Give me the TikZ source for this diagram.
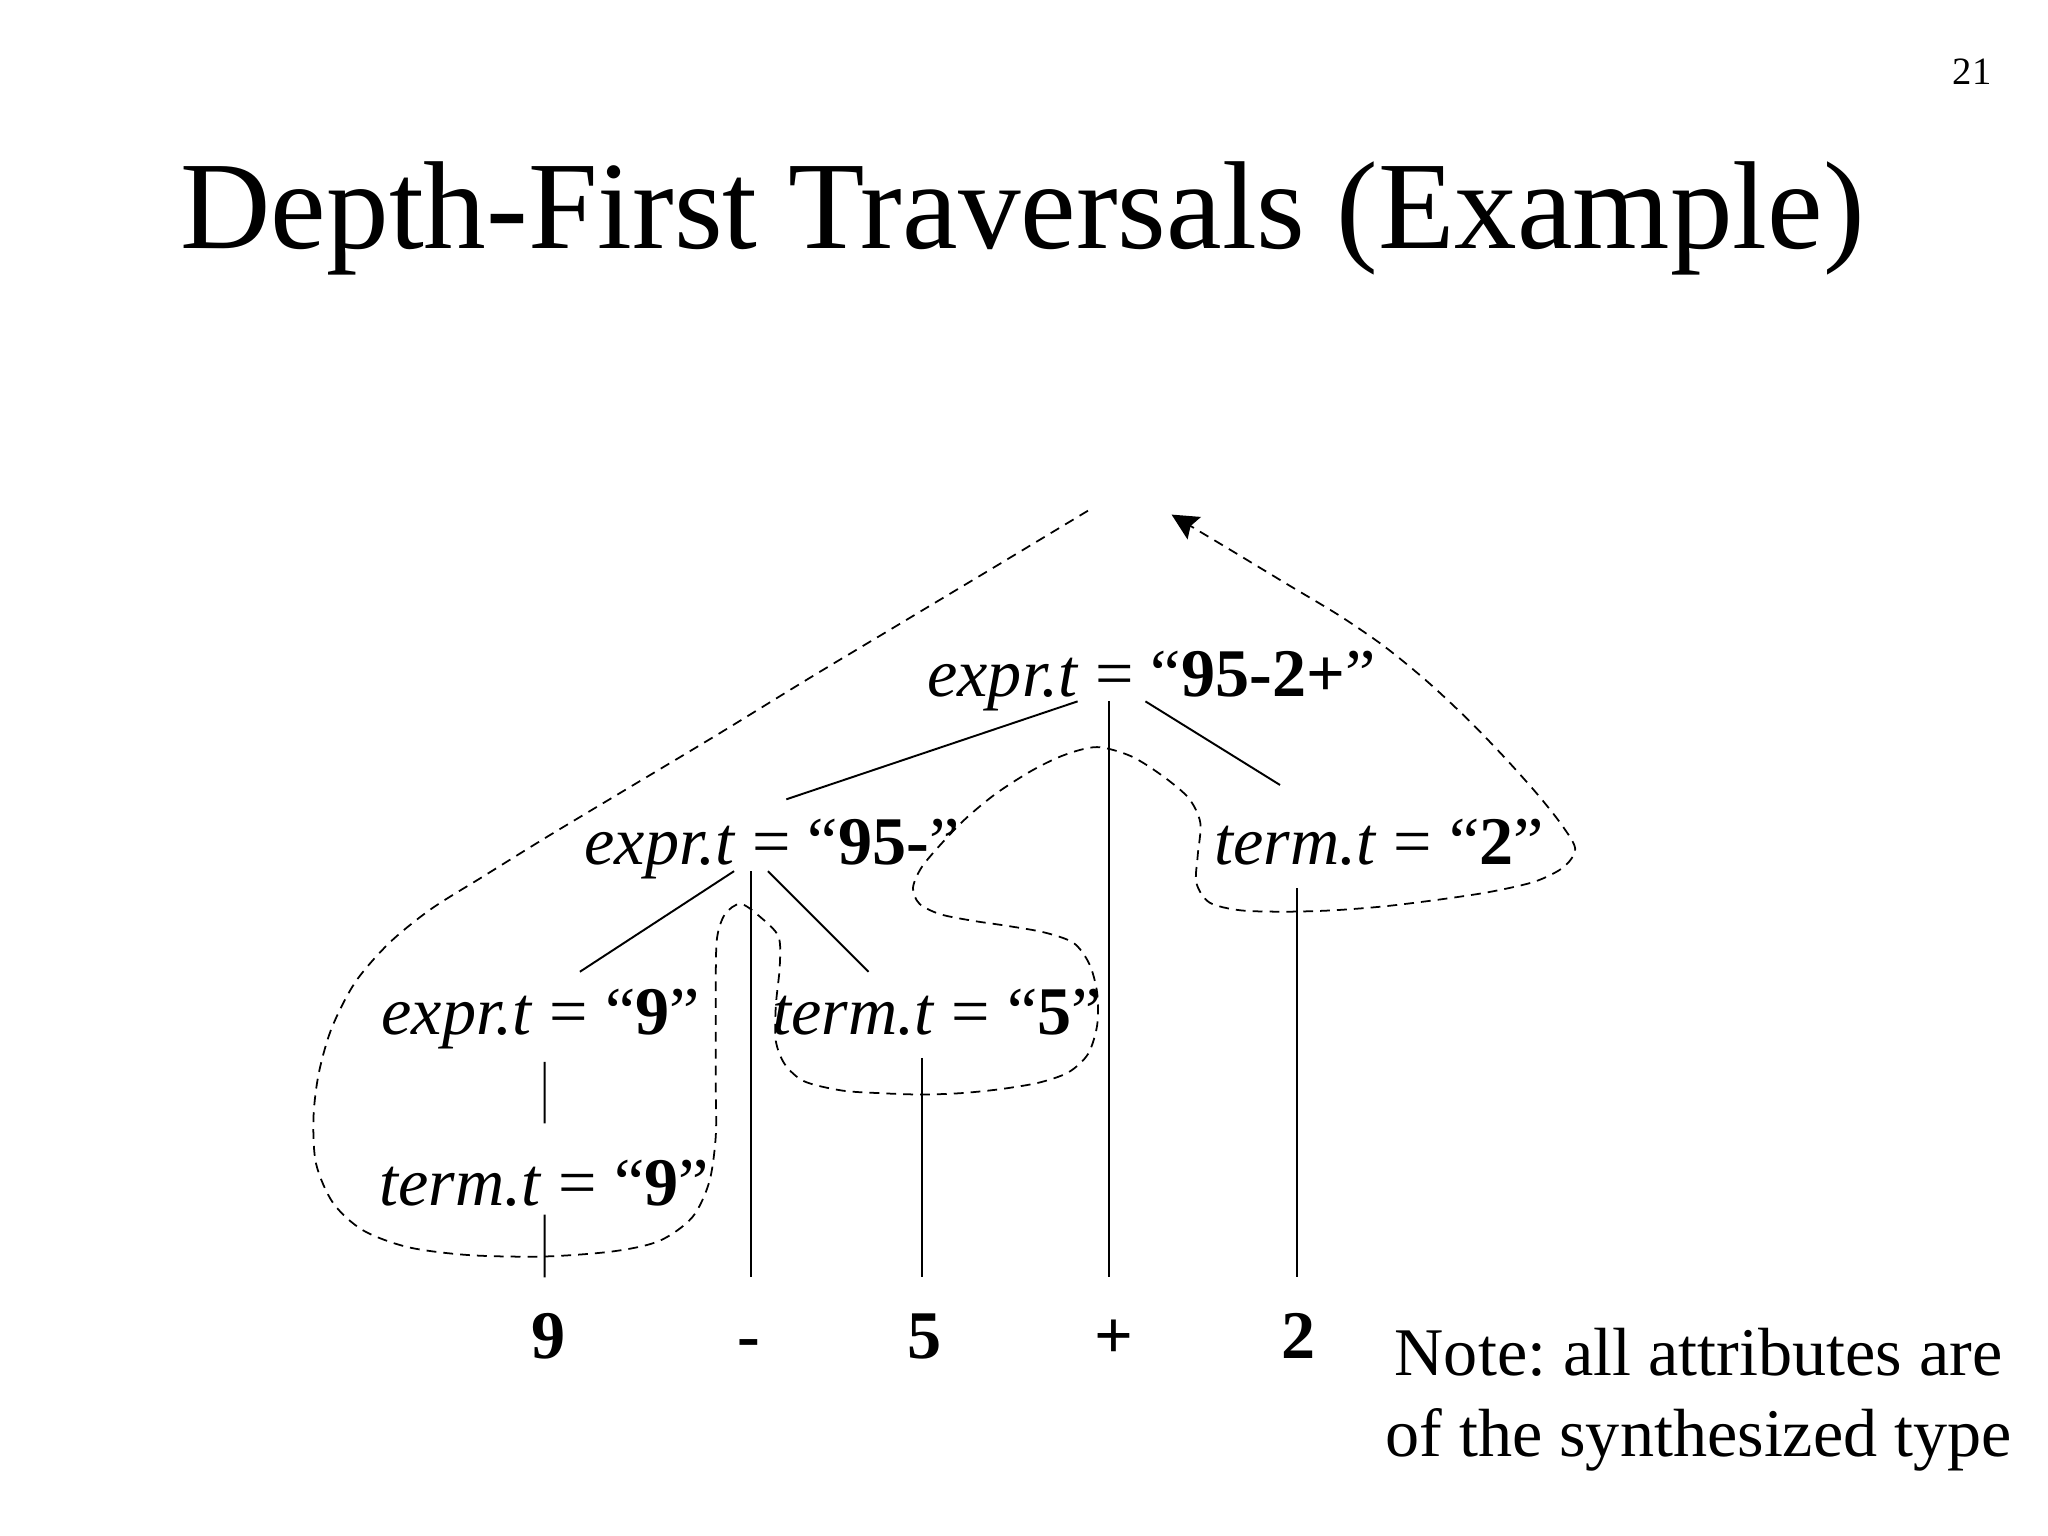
\documentclass[tikz,border=0pt]{standalone}
\usepackage{fontspec}
\setmainfont{Liberation Serif}
\usetikzlibrary{calc,arrows.meta}
\frenchspacing

\begin{document}
\begin{tikzpicture}[
        x=0.013061cm, y=-0.013061cm,
        attr/.style={font=\fontsize{19.4}{23}\selectfont, inner sep=0pt, anchor=base},
        leaf/.style={attr, font=\fontsize{19.4}{23}\selectfont\bfseries},
        edge/.style={line width=0.55pt},
        walk/.style={line width=0.5pt, dash pattern=on 2.8pt off 2pt}
    ]
    \useasboundingbox (0,0) rectangle (1568,1176);

    \node[font=\fontsize{11}{13}\selectfont, inner sep=0pt, anchor=base] (page) at (1510,65) {21};
    \node[font=\fontsize{35.6}{40}\selectfont, inner sep=0pt, anchor=base] (title) at (783,190) {Depth-First Traversals (Example)};

    \node[attr] (root) at (881.5,533) {\textit{expr.t} = “\textbf{95-2+}”};
    \node[attr] (e95) at (591,662) {\textit{expr.t} = “\textbf{95-}”};
    \node[attr] (t2) at (1056,662) {\textit{term.t} = “\textbf{2}”};
    \node[attr] (e9) at (414,792) {\textit{expr.t} = “\textbf{9}”};
    \node[attr] (t5) at (717.5,792) {\textit{term.t} = “\textbf{5}”};
    \node[attr] (t9) at (416.5,923) {\textit{term.t} = “\textbf{9}”};

    \node[leaf] (l9) at (420,1040) {9};
    \node[leaf] (lminus) at (573,1040) {-};
    \node[leaf] (l5) at (708,1040) {5};
    \node[leaf] (lplus) at (853,1040) {+};
    \node[leaf] (l2) at (994,1040) {2};

    \node[attr, align=center] (note) at (1300.5,1115) {Note: all attributes are\\of the synthesized type};

    \draw[edge] ($(root.base)+(-56.5,4)$) -- ($(e95.base)+(11,-50)$);
    \draw[edge] ($(root.base)+(-32.5,4)$) -- ($(lplus.base)+(-4,-62)$);
    \draw[edge] ($(root.base)+(-4.5,4)$) -- ($(t2.base)+(-76,-61)$);
    \draw[edge] ($(e95.base)+(-29,5)$) -- ($(e9.base)+(30,-48)$);
    \draw[edge] ($(e95.base)+(-16,5)$) -- ($(lminus.base)+(2,-62)$);
    \draw[edge] ($(e95.base)+(-3,5)$) -- ($(t5.base)+(-52.5,-48)$);
    \draw[edge] ($(e9.base)+(3,21)$) -- ($(t9.base)+(0.5,-63)$);
    \draw[edge] ($(t9.base)+(0.5,7)$) -- ($(l9.base)+(-3,-62)$);
    \draw[edge] ($(t5.base)+(-11.5,18)$) -- ($(l5.base)+(-2,-62)$);
    \draw[edge] ($(t2.base)+(-63,18)$) -- ($(l2.base)+(-1,-62)$);

    % depth-first walk round the tree
    \draw[walk, -{Stealth[length=7.5pt, width=7.4pt, inset=1.2pt]}]
        plot[smooth, tension=0.5] coordinates {
            (833,391) (760,435) (690,477) (620,519) (550,562) (480,604)
            (420,640) (370,671) (330,696) (298,722) (272,752) (254,787)
            (244,822) (240,856) (242,891) (255,921) (278,942) (313,955)
            (360,961) (417,962) (470,958) (505,950) (530,932) (543,905)
            (548,870) (548,830) (548,790) (548,750) (549,718) (555,700)
            (567,692) (582,702) (596,717) (597,740) (594,770) (594,797)
            (601,815) (616,828) (645,835) (675,837) (705,838) (735,837)
            (765,834) (795,829) (818,821) (833,807) (840,785) (840,760)
            (834,738) (822,722) (800,714) (772,709) (745,705) (720,700)
            (704,692) (699,680) (705,665) (718,649) (738,628) (762,608)
            (790,590) (815,578) (840,572) (866,579) (890,594) (910,611)
            (919,630) (917,655) (916,676) (926,691) (950,697) (985,698)
            (1020,697) (1059,694) (1100,689) (1140,683) (1175,675) (1197,664)
            (1206,650) (1196,632) (1177,608) (1152,580) (1124,551) (1093,522)
            (1060,495) (1025,471) (985,447) (942,421) (897,394)};
\end{tikzpicture}
\end{document}
